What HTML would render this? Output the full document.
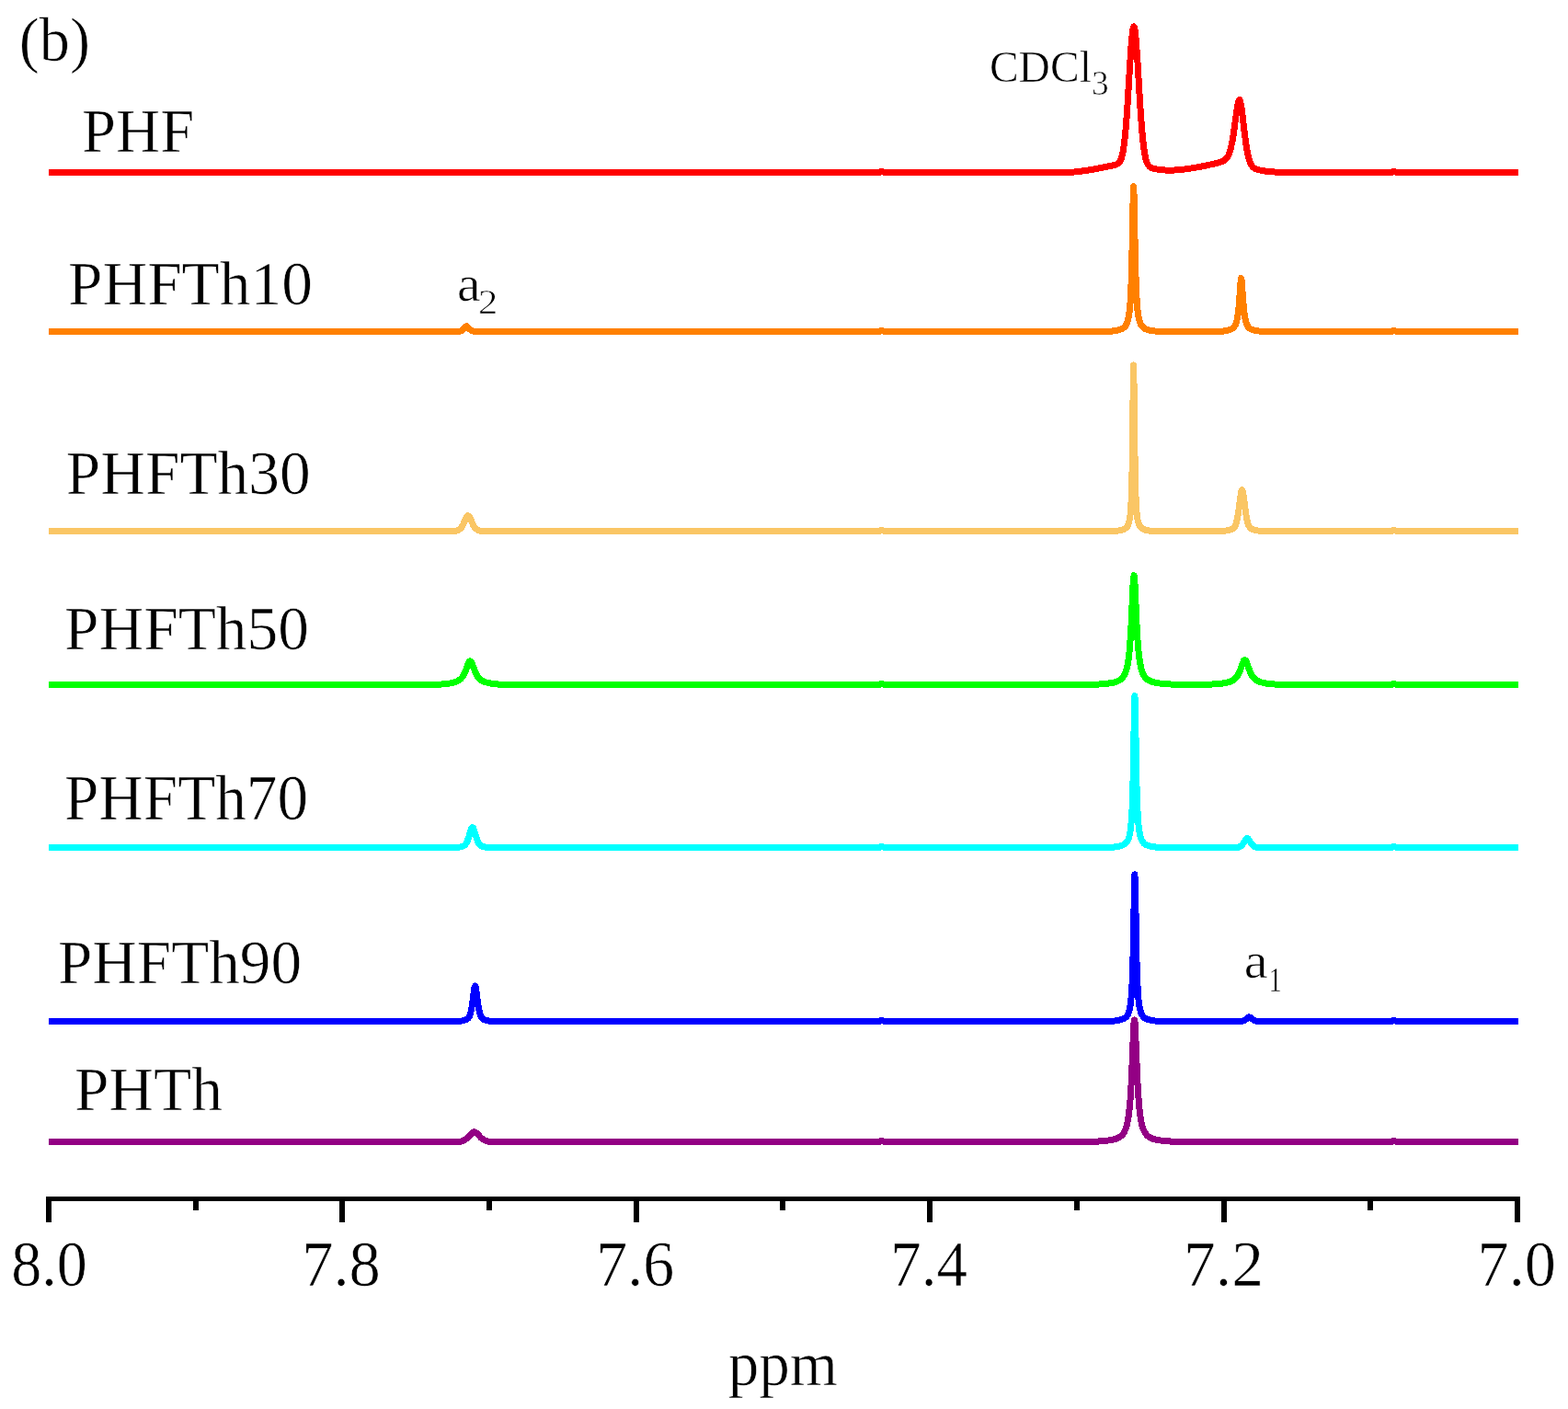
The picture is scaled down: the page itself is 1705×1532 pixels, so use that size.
<!DOCTYPE html>
<html><head><meta charset="utf-8"><style>
html,body{margin:0;padding:0;background:#fff;}
body{width:1705px;height:1532px;overflow:hidden;}
svg{display:block;}
text{font-family:"Liberation Serif","Times New Roman",serif;fill:#000;stroke:#fff;stroke-width:0.6px;}
</style></head><body>
<svg width="1705" height="1532" viewBox="0 0 1705 1532">
<rect width="1705" height="1532" fill="#fff"/>
<g fill="none" stroke-width="7" stroke-linejoin="round" stroke-linecap="butt" shape-rendering="crispEdges">
<path d="M53 1241.50L495.4 1241.50L498.4 1241.28L500.9 1240.86L502.9 1240.21L504.9 1239.20L506.4 1238.24L507.9 1236.99L513 1231.62L514.4 1230.71L515.4 1230.50L516.4 1230.71L517.9 1231.71L522.9 1236.99L524.4 1238.24L525.9 1239.20L527.9 1240.21L529.9 1240.86L532.4 1241.28L535.4 1241.50L954.5 1241.50L955.5 1241.31L958 1240.32L958.5 1240.25L959 1240.32L961.5 1241.31L962.5 1241.50L1175.3 1241.50L1191.3 1241.03L1201.3 1240.28L1207.3 1239.39L1211.3 1238.58L1213.3 1237.98L1215.3 1237.18L1216.8 1236.39L1218.3 1235.37L1220.3 1233.46L1221.3 1232.16L1222.3 1230.53L1223.8 1227.20L1225.3 1222.19L1226.3 1217.35L1227.3 1210.66L1228.3 1201.20L1228.8 1195.06L1229.8 1179.00L1230.3 1168.79L1232.3 1119.87L1232.8 1111.68L1233 1109.79L1233.3 1108.70L1233.8 1111.68L1234.3 1119.87L1236.3 1168.79L1237.3 1187.72L1238.3 1201.20L1238.8 1206.35L1239.8 1214.28L1240.8 1219.96L1241.8 1224.10L1243 1227.72L1244.3 1230.53L1245.8 1232.85L1247.8 1234.96L1250.3 1236.68L1253.3 1237.98L1255.3 1238.58L1259.3 1239.39L1263.3 1240.03L1267.3 1240.48L1277.3 1241.12L1289.3 1241.49L1511.5 1241.50L1512.5 1241.32L1515 1240.32L1515.5 1240.25L1516 1240.32L1518.5 1241.32L1519.5 1241.50L1651 1241.50" stroke="#930084" transform="translate(0.25 0.2)"/>
<path d="M53 1110.50L493 1110.50L498.4 1110.22L501.4 1109.86L503.4 1109.47L504.9 1109.05L506.9 1108.25L507.9 1107.70L508.9 1106.85L509.9 1105.47L510.4 1104.47L511.4 1101.52L512.4 1096.94L513.4 1090.47L515.4 1075.16L515.9 1072.76L516.4 1071.90L516.9 1072.76L517.4 1075.16L519.4 1090.47L520.4 1096.94L521.4 1101.52L521.9 1103.17L522.9 1105.47L523.9 1106.85L524.9 1107.70L525.9 1108.25L527.9 1109.05L529.9 1109.58L531.9 1109.93L538.4 1110.50L954.5 1110.50L955.5 1110.33L958 1109.33L958.5 1109.26L959 1109.33L961.5 1110.33L962.5 1110.50L1199.7 1110.50L1207.7 1110.20L1213 1109.69L1216.7 1109.03L1220.7 1107.81L1223 1106.56L1224.7 1104.99L1226.2 1102.69L1227.2 1100.27L1228.2 1096.56L1229.2 1090.54L1230.2 1079.99L1230.7 1071.65L1231.2 1059.97L1231.7 1043.47L1232.2 1020.65L1233.2 963.42L1233.7 950.70L1234.2 963.42L1235.7 1043.47L1236.2 1059.97L1236.7 1071.65L1237.7 1086.05L1238.2 1090.54L1239.2 1096.56L1239.7 1098.62L1240.7 1101.60L1241.7 1103.59L1243.2 1105.54L1244.2 1106.41L1245.2 1107.08L1247.2 1108.00L1250.7 1109.03L1253.7 1109.59L1259.7 1110.19L1265.7 1110.49L1346.7 1110.50L1349.7 1110.14L1352.2 1109.46L1353.2 1109.00L1354.7 1108.07L1357.2 1106.03L1357.7 1105.77L1358.2 1105.67L1358.7 1105.77L1359.2 1106.03L1361.7 1108.07L1363.2 1109.01L1364.2 1109.47L1366.7 1110.15L1369.7 1110.50L1511.5 1110.50L1512.5 1110.33L1515 1109.33L1515.5 1109.26L1516 1109.33L1518.5 1110.33L1519.5 1110.50L1651 1110.50" stroke="#0000ff" transform="translate(0.25 0.2)"/>
<path d="M53 921.50L493.5 921.48L498.5 921.04L501.5 920.47L503.5 919.66L504.5 919.06L505.5 918.22L507 916.14L508 914.06L509.5 909.81L512 901.58L512.5 900.42L513 899.66L513.5 899.40L514 899.66L514.5 900.42L515 901.58L517.5 909.81L519 914.06L520 916.14L521.5 918.22L522.5 919.06L523.5 919.66L525.5 920.47L528.5 921.04L533.5 921.48L954.5 921.50L955.5 921.33L958 920.33L958.5 920.26L959 920.33L961.5 921.33L962.5 921.50L1199.7 921.50L1207.7 921.17L1213 920.65L1216.7 919.97L1220.7 918.72L1223 917.43L1224.7 915.81L1226.2 913.44L1227.2 910.94L1228.2 907.11L1229.2 900.90L1230.2 890.02L1230.7 881.41L1231.2 869.35L1231.7 852.33L1232.2 828.78L1233.2 769.72L1233.7 756.59L1234.2 769.72L1235.7 852.33L1236.2 869.35L1236.7 881.41L1237.7 896.27L1238.2 900.90L1239.2 907.11L1239.7 909.24L1240.7 912.31L1241.7 914.37L1243.2 916.38L1244.2 917.28L1245.2 917.97L1247.2 918.92L1250.7 919.96L1253.7 920.54L1259.7 921.16L1265.7 921.47L1342.5 921.50L1345 921.23L1346.5 920.92L1348 920.32L1349 919.65L1350.5 918.36L1351.5 917.14L1354.5 912.46L1355.5 911.50L1356 911.37L1356.5 911.50L1357.5 912.46L1360.5 917.14L1361.5 918.36L1363 919.66L1364 920.33L1365.5 920.93L1367.5 921.32L1369.5 921.50L1511.5 921.50L1512.5 921.33L1515 920.33L1515.5 920.26L1516 920.33L1518.5 921.33L1519.5 921.50L1651 921.50" stroke="#00ffff" transform="translate(0.25 0.2)"/>
<path d="M53 744.50L465 744.50L477 744.07L485 743.39L489 742.76L493 741.91L496.5 740.71L498 739.95L499.5 738.95L501 737.64L502 736.53L503 735.17L504 733.53L506 729.21L508.5 722.43L509.5 720.12L510 719.30L510.5 718.77L511 718.60L511.5 718.77L512 719.30L512.5 720.12L513.5 722.43L516.5 730.42L518.5 734.39L519.5 735.88L521 737.64L522 738.56L523.5 739.65L525.5 740.71L528 741.63L530.5 742.26L535 743.11L541 743.79L551 744.34L557 744.50L954.5 744.50L955.5 744.30L958 743.31L958.5 743.24L959 743.31L961.5 744.30L962.5 744.50L1176.8 744.50L1190.8 744.09L1200.8 743.41L1204.8 742.92L1210.8 741.83L1213 741.23L1214.8 740.58L1216.3 739.87L1217.8 738.95L1219.8 737.24L1220.8 736.08L1221.8 734.62L1223.3 731.63L1224.8 727.13L1225.8 722.80L1226.8 716.80L1227.8 708.33L1228.3 702.82L1229.3 688.43L1229.8 679.28L1231.8 635.44L1232.3 628.10L1232.8 625.43L1233 625.87L1233.3 628.10L1233.8 635.44L1235.8 679.27L1236.8 696.23L1237.8 708.32L1238.3 712.92L1239.3 720.04L1240.3 725.12L1241.3 728.83L1242.3 731.61L1243.8 734.59L1244.8 736.05L1245.8 737.21L1247.8 738.92L1250.3 740.32L1253 741.31L1256.8 742.19L1260.8 742.83L1266.8 743.48L1276.8 744.01L1292.8 744.27L1309.3 744.15L1321.3 743.68L1325.3 743.35L1329.3 742.84L1335.3 741.67L1338.3 740.64L1340.8 739.31L1343 737.53L1344.8 735.38L1346.3 732.92L1347.8 729.67L1350.8 721.31L1351.8 718.90L1352.3 718.04L1352.8 717.50L1353.3 717.31L1353.8 717.50L1354.3 718.04L1354.8 718.91L1355.8 721.32L1358.3 728.42L1360.3 732.94L1361.3 734.66L1362.3 736.08L1364.3 738.21L1365.8 739.35L1367.3 740.22L1368.8 740.90L1370.8 741.58L1373.3 742.20L1377.3 742.94L1383 743.63L1391.3 744.16L1403 744.50L1511.5 744.50L1513 744.11L1515 743.27L1515.5 743.20L1516 743.27L1518.5 744.27L1519.5 744.50L1651 744.50" stroke="#00ff00" transform="translate(0.25 0.2)"/>
<path d="M53 577.50L490.7 577.50L494.2 577.19L496.7 576.70L498.2 576.09L500.2 574.69L501.7 572.99L503 570.84L506.2 563.70L507.2 561.77L507.7 561.08L508.2 560.65L508.7 560.50L509.2 560.65L509.7 561.08L510.2 561.77L511.2 563.70L513.2 568.33L514.7 571.39L515.7 572.99L517.2 574.69L519.2 576.09L520.7 576.70L523 577.16L526.7 577.50L954.5 577.50L955.5 577.33L958 576.34L958.5 576.27L959 576.34L961.5 577.33L962.5 577.50L1206.4 577.50L1210.4 577.37L1215.9 576.83L1219.4 576.09L1222.4 574.91L1223.9 573.95L1225.4 572.32L1226.4 570.53L1227.4 567.63L1228.4 562.55L1228.9 558.46L1229.4 552.54L1229.9 543.62L1230.4 529.62L1230.9 506.92L1231.9 423.42L1232.4 396.68L1232.9 423.42L1233.9 506.92L1234.4 529.62L1234.9 543.62L1235.4 552.54L1235.9 558.46L1236.4 562.55L1236.9 565.47L1237.9 569.26L1238.9 571.52L1239.9 572.96L1241.4 574.32L1242.9 575.14L1245.4 576.07L1247.9 576.65L1251.4 577.11L1256.4 577.45L1323 577.50L1328.3 577.24L1333.3 576.73L1336.3 576.15L1339.3 575.14L1340.8 574.28L1341.8 573.31L1342.3 572.63L1343.3 570.68L1344.3 567.64L1345.3 563.17L1346.3 557.10L1348.3 541.69L1349.3 535.12L1349.8 533.17L1350.3 532.48L1350.8 533.17L1351.3 535.12L1351.8 538.08L1354.3 557.10L1355.3 563.18L1356.3 567.65L1357.3 570.69L1357.8 571.77L1358.8 573.32L1360.3 574.63L1361.3 575.15L1363.3 575.88L1367.3 576.75L1372.3 577.26L1378.3 577.50L1511.5 577.50L1512.5 577.32L1515 576.32L1515.5 576.26L1516 576.32L1518.5 577.32L1519.5 577.50L1651 577.50" stroke="#fac665" transform="translate(0.25 0.2)"/>
<path d="M53 360.50L496.6 360.49L499.6 360.01L501.1 359.53L502.1 359.03L504.1 357.50L506.1 355.10L506.6 354.66L507.1 354.50L507.6 354.66L508.1 355.10L509.6 356.96L510.6 357.96L512.6 359.30L513.6 359.72L515.1 360.12L518.1 360.50L954.5 360.50L955.5 360.33L958 359.33L958.5 359.26L959 359.33L961.5 360.33L962.5 360.50L1196.4 360.50L1204.4 360.22L1210.4 359.70L1214.4 359.04L1218.4 357.91L1220.4 357.00L1222.4 355.52L1223.9 353.70L1224.9 351.88L1225.4 350.68L1226.4 347.44L1227.4 342.36L1228.4 333.89L1228.9 327.45L1229.9 306.57L1230.9 267.29L1231.9 213.89L1232.4 202.58L1232.9 213.89L1233.9 267.29L1234.9 306.57L1235.4 318.68L1236.4 333.88L1236.9 338.69L1237.9 345.20L1238.4 347.43L1239.4 350.68L1239.9 351.87L1240.9 353.69L1242.4 355.52L1244.4 356.99L1246.4 357.90L1249.9 358.90L1253 359.49L1258.4 360.06L1264.4 360.38L1268.4 360.50L1319.4 360.50L1327.4 360.12L1331.9 359.63L1335.4 358.87L1337.4 358.21L1338.9 357.56L1340.4 356.59L1341.4 355.65L1342.9 353.48L1343.9 351.15L1344.4 349.56L1345.4 345.05L1346.4 337.75L1346.9 332.55L1348.9 304.68L1349.4 302.26L1349.9 304.68L1351.4 326.12L1352.4 337.75L1353.4 345.06L1354.4 349.57L1354.9 351.16L1355.9 353.48L1356.9 355.06L1358.4 356.60L1359.4 357.30L1360.9 358.04L1363.4 358.90L1365.9 359.49L1371.4 360.16L1377.4 360.50L1511.5 360.50L1512.5 360.32L1515 359.32L1515.5 359.25L1516 359.32L1518.5 360.32L1519.5 360.50L1651 360.50" stroke="#ff8000" transform="translate(0.25 0.2)"/>
<path d="M53 187.50L954.5 187.50L955.5 187.32L958 186.32L958.5 186.25L959 186.32L961.5 187.32L962.5 187.50L1157.1 187.50L1166 186.99L1175.1 186.01L1184 184.73L1191.1 183.51L1207.5 180.15L1212.5 178.96L1214 178.42L1215 177.90L1216.5 176.68L1217.1 175.96L1218 174.49L1219 172.14L1219.6 170.24L1220.5 166.54L1221.5 160.94L1222.5 153.46L1223.5 143.85L1224.5 132.01L1225.5 118.05L1228.6 67.51L1230 47.03L1230.6 40.05L1231.5 32.43L1232.1 29.57L1232.6 28.67L1233.1 29.15L1233.5 30.53L1234 33.44L1235.1 44.03L1236.5 63.79L1239.1 107.32L1240.6 130.07L1242.1 148.31L1243.6 161.55L1245.1 170.37L1246.1 174.30L1247.1 177.08L1248.1 179.01L1249.6 180.83L1251.1 181.90L1252.6 182.58L1255.1 183.31L1259.1 184.07L1263 184.56L1267.1 184.85L1271.1 184.94L1276 184.84L1281.1 184.52L1286 184.03L1293.1 183.08L1301.1 181.75L1311.6 179.72L1319.6 177.98L1324 176.86L1327.5 175.74L1330 174.64L1332 173.34L1333.1 172.33L1334 171.25L1335.5 168.73L1337 164.90L1338.1 160.97L1339.6 154.00L1341 145.75L1344.5 120.34L1345.5 113.98L1346.5 109.64L1347 108.55L1347.5 108.29L1348 108.89L1348.5 110.35L1349.5 115.51L1350.5 122.84L1353.1 144.93L1354.5 155.51L1356 164.65L1357.5 171.39L1358.6 174.99L1359.6 177.46L1360.6 179.31L1361.6 180.69L1362.6 181.73L1364.1 182.83L1366 183.77L1368 184.44L1371.6 185.24L1375.6 185.89L1381.6 186.57L1391.6 187.16L1403.6 187.50L1511.5 187.50L1513 187.10L1515 186.27L1515.5 186.20L1516 186.27L1518.5 187.27L1519.5 187.50L1651 187.50" stroke="#ff0000" transform="translate(0.25 0.2)"/>
</g>
<g fill="#000" shape-rendering="crispEdges">
<rect x="50" y="1301" width="1603" height="5"/>
<rect x="50" y="1301" width="6" height="28"/>
<rect x="210" y="1301" width="6" height="15"/>
<rect x="369" y="1301" width="6" height="28"/>
<rect x="529" y="1301" width="6" height="15"/>
<rect x="689" y="1301" width="6" height="28"/>
<rect x="848" y="1301" width="6" height="15"/>
<rect x="1008" y="1301" width="6" height="28"/>
<rect x="1168" y="1301" width="6" height="15"/>
<rect x="1328" y="1301" width="6" height="28"/>
<rect x="1487" y="1301" width="6" height="15"/>
<rect x="1647" y="1301" width="6" height="28"/>
</g>
<text transform="translate(20.82 65.80) scale(0.9724 1)" font-size="68.11">(b)</text>
<text transform="translate(89.10 165.00) scale(0.9687 1)" font-size="68.70">PHF</text>
<text transform="translate(73.98 331.22) scale(0.9942 1)" font-size="67.80">PHFTh10</text>
<text transform="translate(71.78 537.03) scale(1.0005 1)" font-size="67.38">PHFTh30</text>
<text transform="translate(69.98 706.32) scale(0.9925 1)" font-size="67.94">PHFTh50</text>
<text transform="translate(69.98 890.51) scale(0.9768 1)" font-size="68.79">PHFTh70</text>
<text transform="translate(62.98 1068.61) scale(0.9788 1)" font-size="68.65">PHFTh90</text>
<text transform="translate(80.88 1207.20) scale(0.9865 1)" font-size="68.34">PHTh</text>
<text transform="translate(1075.90 89.01) scale(0.9650 1)" font-size="49.29">CDCl</text>
<text transform="translate(1187.03 103.43) scale(1.0001 1)" font-size="37.31">3</text>
<text transform="translate(496.98 327.45) scale(1.0485 1)" font-size="55.05">a</text>
<text transform="translate(520.09 340.90) scale(1.1220 1)" font-size="37.88">2</text>
<text transform="translate(1352.85 1063.35) scale(1.0684 1)" font-size="54.74">a</text>
<text transform="translate(1379.43 1077.90) scale(0.7516 1)" font-size="38.02">1</text>
<text transform="translate(791.79 1505.72) scale(0.9933 1)" font-size="67.50">ppm</text>
<text transform="translate(12.15 1397.96) scale(0.9571 1)" font-size="69.12">8.0</text>
<text transform="translate(328.25 1397.96) scale(0.9907 1)" font-size="69.12">7.8</text>
<text transform="translate(1606.46 1398.26) scale(0.9831 1)" font-size="69.56">7.0</text>
<text transform="translate(648.29 1397.96) scale(0.9749 1)" font-size="69.63">7.6</text>
<text transform="translate(968.34 1397.95) scale(0.9552 1)" font-size="70.15">7.4</text>
<text transform="translate(1287.08 1397.96) scale(0.9977 1)" font-size="69.63">7.2</text>
</svg>
</body></html>
